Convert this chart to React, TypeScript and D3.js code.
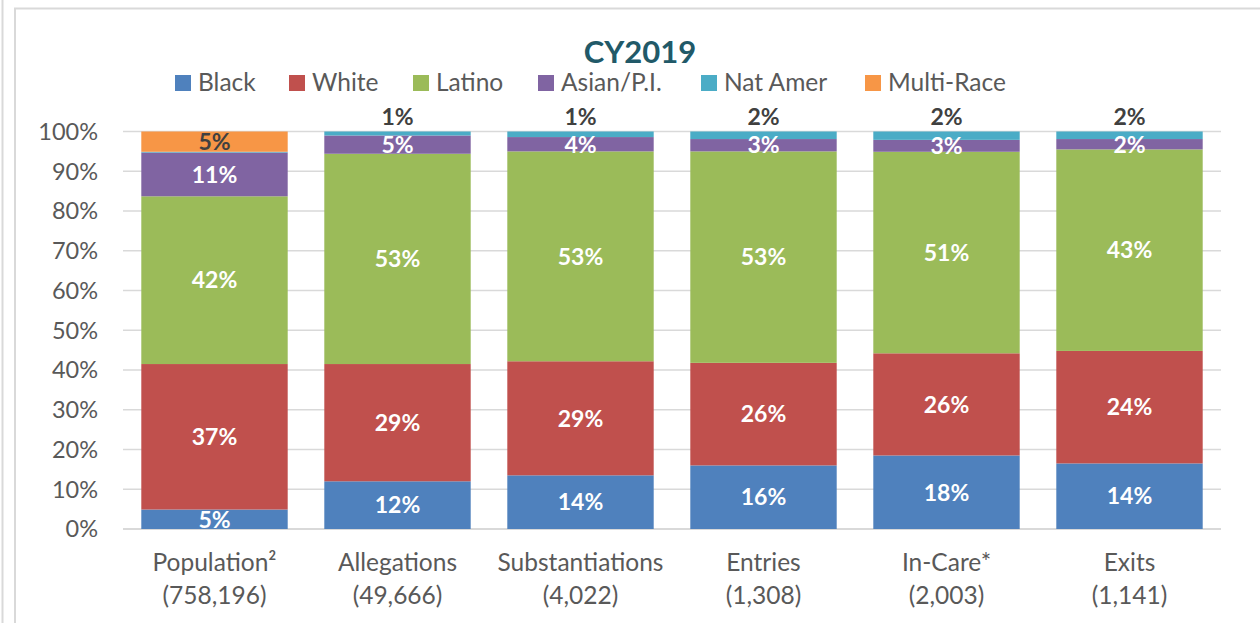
import { useEffect, useRef } from 'react';
import * as d3 from 'd3';

// categories (two-line axis labels)
const categories = ['Population', 'Allegations', 'Substantiations', 'Entries', 'In-Care', 'Exits'];
const categoryLine1 = ['Population²', 'Allegations', 'Substantiations', 'Entries', 'In-Care*', 'Exits'];
const categoryLine2 = ['(758,196)', '(49,666)', '(4,022)', '(1,308)', '(2,003)', '(1,141)'];

const seriesNames = ['Black', 'White', 'Latino', 'Asian/P.I.', 'Nat Amer', 'Multi-Race'];
const seriesColors = ['#4F81BD', '#C0504D', '#9BBB59', '#8064A2', '#4BACC6', '#F79646'];

// segment sizes (percent)
const black = [4.9, 12.0, 13.5, 16.0, 18.5, 16.5];
const white = [36.6, 29.5, 28.7, 25.8, 25.7, 28.3];
const latino = [42.2, 52.9, 52.8, 53.2, 50.7, 50.7];
const asian = [11.0, 4.6, 3.6, 3.1, 3.0, 2.6];
const natAmer = [0.2, 1.0, 1.4, 1.9, 2.1, 1.9];
const multiRace = [5.1, 0, 0, 0, 0, 0];

// data labels as printed on the chart
const blackLabels = ['5%', '12%', '14%', '16%', '18%', '14%'];
const whiteLabels = ['37%', '29%', '29%', '26%', '26%', '24%'];
const latinoLabels = ['42%', '53%', '53%', '53%', '51%', '43%'];
const asianLabels = ['11%', '5%', '4%', '3%', '3%', '2%'];
const natAmerLabels = ['', '1%', '1%', '2%', '2%', '2%'];
const multiLabels = ['5%', '', '', '', '', ''];

const yTicks = [0, 10, 20, 30, 40, 50, 60, 70, 80, 90, 100];

const FONT = 'Lato, "Open Sans", sans-serif';

export default function App() {
  const svgRef = useRef<SVGSVGElement>(null);

  useEffect(() => {
    if (!svgRef.current) return;
    const width = 1260;
    const height = 623;
    const svg = d3.select(svgRef.current);
    svg.selectAll('*').remove();

    // outer frame
    svg.append('line').attr('x1', 2.5).attr('x2', 2.5).attr('y1', 0).attr('y2', height)
      .attr('stroke', '#d9d9d9').attr('stroke-width', 2);
    svg.append('line').attr('x1', 15).attr('x2', 15).attr('y1', 8).attr('y2', height)
      .attr('stroke', '#d9d9d9').attr('stroke-width', 2);
    svg.append('line').attr('x1', 14).attr('x2', width).attr('y1', 8.5).attr('y2', 8.5)
      .attr('stroke', '#d9d9d9').attr('stroke-width', 2);

    const x = d3.scaleBand()
      .domain(categories)
      .range([123, 1221])
      .paddingInner(0.2)
      .paddingOuter(0.1);

    const y = d3.scaleLinear().domain([0, 100]).range([529, 131.5]);

    // gridlines
    svg.append('g')
      .selectAll('line')
      .data(yTicks)
      .join('line')
      .attr('x1', 123)
      .attr('x2', 1221)
      .attr('y1', d => y(d))
      .attr('y2', d => y(d))
      .attr('stroke', '#d9d9d9')
      .attr('stroke-width', d => (d === 0 ? 2 : 1.5));

    // tick labels
    svg.append('g')
      .selectAll('text')
      .data(yTicks)
      .join('text')
      .attr('x', 98)
      .attr('y', d => y(d))
      .attr('dy', '0.36em')
      .attr('text-anchor', 'end')
      .style('font-family', FONT)
      .style('font-size', '23.5px')
      .style('fill', '#595959')
      .text(d => `${d}%`);

    const valuesBySeries = [black, white, latino, asian, natAmer, multiRace];
    const table = categories.map((c, i) => {
      const row: Record<string, any> = { category: c };
      seriesNames.forEach((s, k) => { row[s] = valuesBySeries[k][i]; });
      return row;
    });
    const stacked = d3.stack<Record<string, any>>().keys(seriesNames)(table);

    const layers = svg.append('g')
      .selectAll('g')
      .data(stacked)
      .join('g')
      .attr('fill', (_, k) => seriesColors[k]);

    layers.selectAll('rect')
      .data(d => d)
      .join('rect')
      .attr('x', d => x(d.data.category) || 0)
      .attr('width', x.bandwidth())
      .attr('y', d => y(d[1]))
      .attr('height', d => Math.max(0, y(d[0]) - y(d[1])));

    // data labels
    const labelsBySeries = [blackLabels, whiteLabels, latinoLabels, asianLabels, natAmerLabels, multiLabels];
    stacked.forEach((layer, k) => {
      svg.append('g')
        .selectAll('text')
        .data(layer.map((d, i) => ({ d, label: labelsBySeries[k][i] })).filter(o => o.label))
        .join('text')
        .attr('x', o => (x(o.d.data.category) || 0) + x.bandwidth() / 2)
        .attr('y', o => (k === 4 ? y(100) - 15 : (y(o.d[0]) + y(o.d[1])) / 2))
        .attr('dy', '0.36em')
        .attr('text-anchor', 'middle')
        .style('font-family', FONT)
        .style('font-weight', 700)
        .style('font-size', '23px')
        .style('fill', k === 4 || k === 5 ? '#404040' : '#ffffff')
        .text(o => o.label);
    });

    // category labels
    const cat = svg.append('g')
      .selectAll('text')
      .data(categories)
      .join('text')
      .attr('x', d => (x(d) || 0) + x.bandwidth() / 2)
      .attr('text-anchor', 'middle')
      .style('font-family', FONT)
      .style('font-size', '24.5px')
      .style('fill', '#595959');
    cat.append('tspan').attr('x', d => (x(d) || 0) + x.bandwidth() / 2).attr('y', 571)
      .text((_, i) => categoryLine1[i]);
    cat.append('tspan').attr('x', d => (x(d) || 0) + x.bandwidth() / 2).attr('y', 604)
      .text((_, i) => categoryLine2[i]);

    // title
    svg.append('text')
      .attr('x', 640)
      .attr('y', 62.5)
      .attr('text-anchor', 'middle')
      .style('font-family', FONT)
      .style('font-weight', 700)
      .style('font-size', '31px')
      .style('fill', '#215968')
      .text('CY2019');

    // legend
    const legendX = [175, 289, 413, 538, 701, 865];
    const legend = svg.append('g')
      .selectAll('g')
      .data(seriesNames)
      .join('g')
      .attr('transform', (_, i) => `translate(${legendX[i]},75)`);
    legend.append('rect').attr('width', 16).attr('height', 16).attr('fill', (_, i) => seriesColors[i]);
    legend.append('text')
      .attr('x', 23)
      .attr('y', 16)
      .style('font-family', FONT)
      .style('font-size', '24.5px')
      .style('fill', '#595959')
      .text(d => d);
  }, []);

  return (
    <div style={{ width: 1260, height: 623 }}>
      <style>{'body{margin:0;background:#fff}'}</style>
      <svg ref={svgRef} width={1260} height={623} style={{ display: 'block' }}></svg>
    </div>
  );
}
